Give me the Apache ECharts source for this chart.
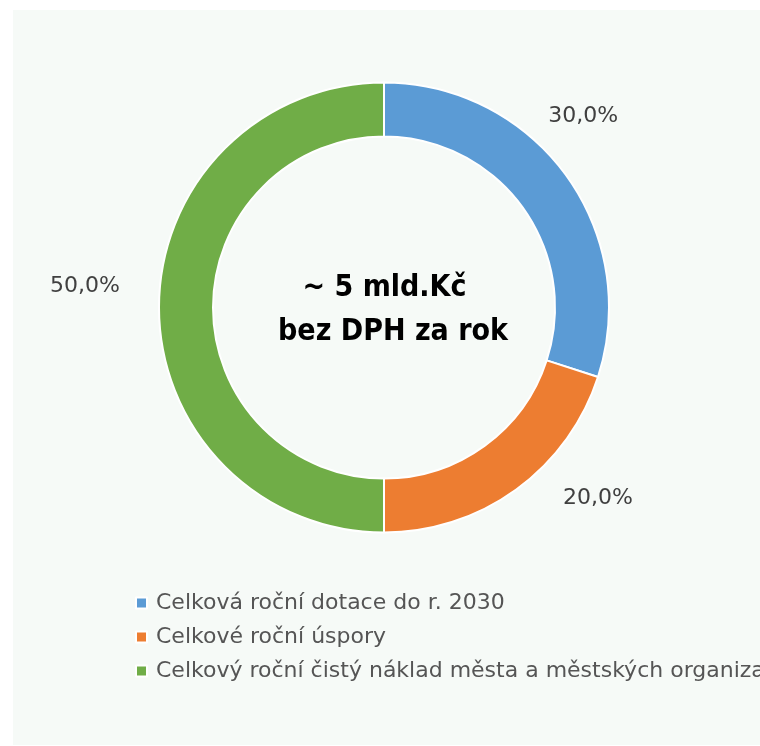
<!DOCTYPE html>
<html>
<head>
<meta charset="utf-8">
<script src="https://cdn.jsdelivr.net/npm/echarts@6/dist/echarts.min.js"></script>
<style>
  html, body { margin: 0; padding: 0; background: #fff; }
  #chart { width: 760px; height: 746px; }
</style>
</head>
<body>
<div id="chart"></div>
<script>
  // data
  const names = [
    'Celková roční dotace do r. 2030',
    'Celkové roční úspory',
    'Celkový roční čistý náklad města a městských organizací'
  ];
  const shares = [30, 20, 50];
  const centerLines = ['~ 5 mld.Kč', 'bez DPH za rok'];

  // look
  const colors = ['#5b9bd5', '#ed7d31', '#70ad47'];
  const labelShift = [[-50, -50], [18, -3], [-4, -21]];

  var myChart = echarts.init(document.getElementById('chart'));
  var centerFont = {
    fontFamily: 'DejaVu Sans Condensed, DejaVu Sans',
    fontWeight: 'bold',
    fontSize: 30,
    lineHeight: 44,
    color: '#000'
  };
  var option = {
    backgroundColor: '#fff',
    color: colors,
    animation: false,
    graphic: [
      {
        type: 'rect',
        z: -10,
        shape: { x: 13, y: 10, width: 747, height: 735 },
        style: { fill: '#f6faf7' }
      }
    ],
    title: {
      text: '{a|' + centerLines[0] + '}\n{b|' + centerLines[1] + '}',
      left: 388,
      top: 261,
      textAlign: 'center',
      textStyle: {
        fontFamily: centerFont.fontFamily,
        rich: {
          a: Object.assign({ padding: [0, 17, 0, 0] }, centerFont),
          b: centerFont
        }
      }
    },
    legend: {
      orient: 'vertical',
      left: 130,
      top: 586,
      icon: 'rect',
      itemWidth: 11,
      itemHeight: 11,
      itemGap: 10,
      selectedMode: false,
      textStyle: {
        fontFamily: 'DejaVu Sans',
        fontSize: 22,
        lineHeight: 24,
        color: '#555555',
        padding: [0, 0, 0, 4]
      },
      data: names
    },
    series: [
      {
        type: 'pie',
        radius: [171, 225],
        center: [384, 307.5],
        startAngle: 90,
        clockwise: true,
        avoidLabelOverlap: false,
        emphasis: { disabled: true },
        itemStyle: { borderColor: '#ffffff', borderWidth: 2 },
        label: {
          show: true,
          position: 'outside',
          fontFamily: 'DejaVu Sans',
          fontSize: 22,
          color: '#404040',
          formatter: function (p) {
            return p.value.toFixed(1).replace('.', ',') + '%';
          }
        },
        labelLine: { show: false, length: 15, length2: 15 },
        labelLayout: function (p) {
          var s = labelShift[p.dataIndex];
          return { dx: s[0], dy: s[1] };
        },
        data: names.map(function (n, i) {
          return { name: n, value: shares[i] };
        })
      }
    ]
  };
  option && myChart.setOption(option);
</script>
</body>
</html>
